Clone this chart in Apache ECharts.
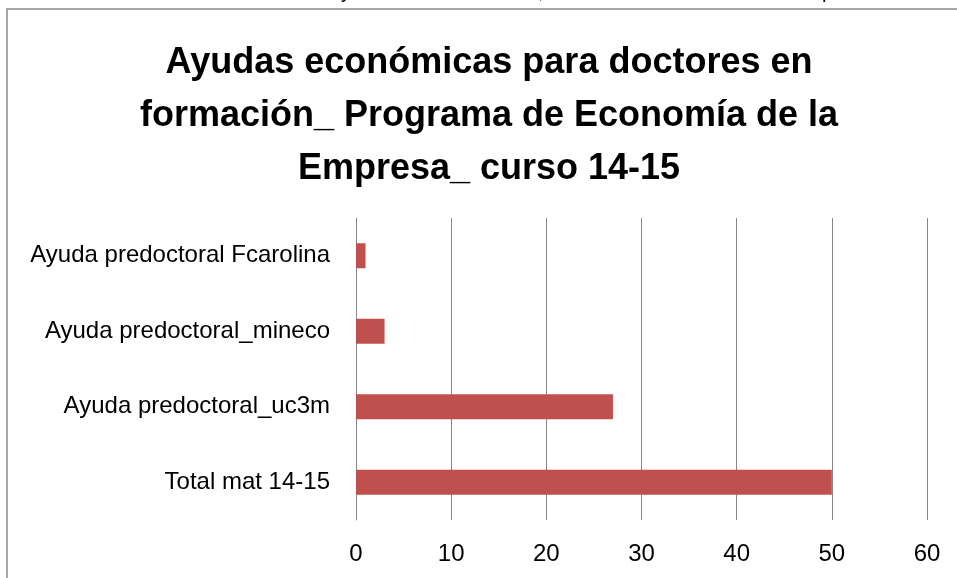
<!DOCTYPE html>
<html><head><meta charset="utf-8">
<script src="https://cdn.jsdelivr.net/npm/echarts@6/dist/echarts.min.js"></script>
<style>html,body{margin:0;padding:0;background:#fff}#c{width:957px;height:578px}</style>
</head><body><div id="c"></div>
<script>
const titleLines = ["Ayudas económicas para doctores en", "formación_ Programa de Economía de la", "Empresa_ curso 14-15"];
const categories = ["Total mat 14-15", "Ayuda predoctoral_uc3m", "Ayuda predoctoral_mineco", "Ayuda predoctoral Fcarolina"];
const values = [50, 27, 3, 1];
const xTicks = {min: 0, max: 60, interval: 10};

const chart = echarts.init(document.getElementById('c'), null, {renderer: 'canvas'});
const FONT = '"Liberation Sans", Arial, sans-serif';
chart.setOption({
  animation: false,
  backgroundColor: '#ffffff',
  title: {
    text: titleLines.join('\n'),
    left: 484, top: 32, textAlign: 'center',
    textStyle: {fontFamily: FONT, fontSize: 36, fontWeight: 'bold', color: '#000', lineHeight: 53}
  },
  graphic: [
    {type: 'rect', shape: {x: 7, y: 9, width: 1100, height: 700}, style: {fill: 'none', stroke: '#8a8a8a', lineWidth: 1.5}, silent: true},
    {type: 'text', x: 341, y: 2, style: {text: 'y', fontFamily: FONT, fontSize: 20, fill: '#000', verticalAlign: 'bottom'}, silent: true},
    {type: 'text', x: 538, y: 2, style: {text: ',', fontFamily: FONT, fontSize: 20, fill: '#000', verticalAlign: 'bottom'}, silent: true},
    {type: 'text', x: 822, y: 2, style: {text: 'p', fontFamily: FONT, fontSize: 20, fill: '#000', verticalAlign: 'bottom'}, silent: true}
  ],
  grid: {left: 356, right: 30, top: 218, bottom: 58, containLabel: false},
  xAxis: {
    type: 'value', min: xTicks.min, max: xTicks.max, interval: xTicks.interval,
    axisLine: {show: false}, axisTick: {show: false},
    splitLine: {show: true, lineStyle: {color: '#868686', width: 1}},
    axisLabel: {fontFamily: FONT, fontSize: 24, color: '#000', margin: 22}
  },
  yAxis: {
    type: 'category', data: categories,
    axisLine: {show: true, lineStyle: {color: '#868686', width: 1}},
    axisTick: {show: false},
    axisLabel: {fontFamily: FONT, fontSize: 24, color: '#000', margin: 26}
  },
  series: [{
    type: 'bar', data: values, barWidth: 25,
    itemStyle: {color: '#c0504d'}
  }]
});
</script></body></html>
